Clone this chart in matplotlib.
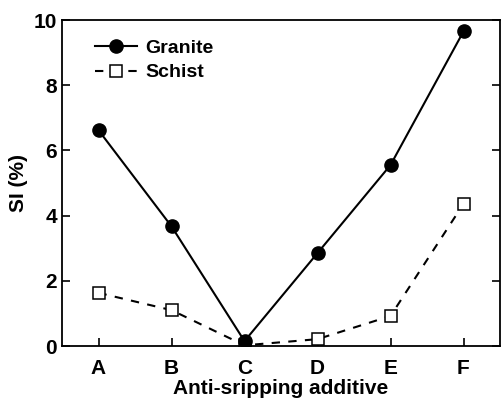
import matplotlib
matplotlib.use('Agg')
import matplotlib.pyplot as plt

plt.rcParams['font.family'] = ['Liberation Sans', 'DejaVu Sans']

additives = ['A', 'B', 'C', 'D', 'E', 'F']
granite = [6.62, 3.67, 0.15, 2.85, 5.55, 9.65]
schist = [1.63, 1.10, 0.02, 0.21, 0.92, 4.36]

fig = plt.figure(figsize=(5.03, 4.0), dpi=100)
ax = fig.add_axes([62 / 503, 54 / 400, 438 / 503, 326 / 400])

x = list(range(len(additives)))
ax.plot(x, schist, color='black', linestyle=(0, (4, 4)), linewidth=1.5,
        marker='s', markersize=8.5, markerfacecolor='white', markeredgecolor='black',
        markeredgewidth=1.1, label='Schist', zorder=2)
ax.plot(x, granite, color='black', linestyle='-', linewidth=1.5,
        marker='o', markersize=9.5, markerfacecolor='black', label='Granite', zorder=3)

ax.set_xlim(-0.5, 5.5)
ax.set_ylim(0, 10)
ax.set_xticks(x)
ax.set_xticklabels(additives)
ax.set_yticks([0, 2, 4, 6, 8, 10])
ax.tick_params(direction='in', length=6, width=1.2, labelsize=15, right=True)
ax.tick_params(axis='x', pad=9)
for lab in ax.get_xticklabels() + ax.get_yticklabels():
    lab.set_fontweight('bold')
for s in ax.spines.values():
    s.set_linewidth(1.3)

ax.set_xlabel('Anti\u2010sripping additive', fontsize=15, fontweight='bold', labelpad=1)
ax.set_ylabel('SI (%)', fontsize=15, fontweight='bold', labelpad=4)

handles, labels = ax.get_legend_handles_labels()
leg = ax.legend(handles[::-1], labels[::-1], loc='upper left', frameon=False,
                fontsize=14, handlelength=2.2, handletextpad=0.4,
                borderaxespad=0.6, labelspacing=0.35, bbox_to_anchor=(0.03, 1.0))
for t in leg.get_texts():
    t.set_fontweight('bold')

fig.savefig('out.png', dpi=100)
